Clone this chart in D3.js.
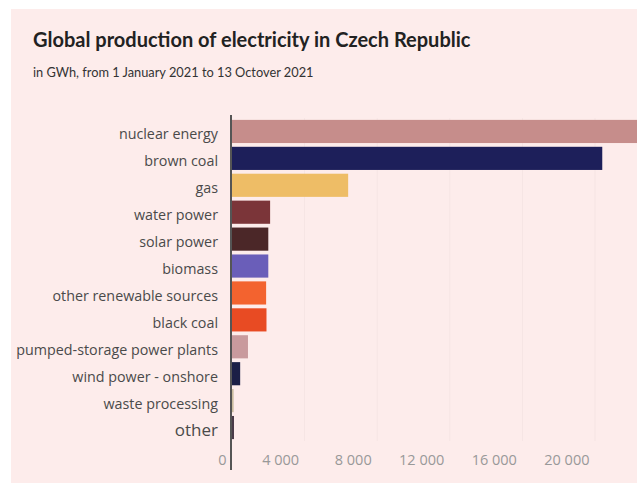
<!DOCTYPE html>
<html>
<head>
<meta charset="utf-8">
<script src="https://cdn.jsdelivr.net/npm/d3@7"></script>
<style>
  html, body { margin: 0; padding: 0; background: #fff; overflow: hidden; }
  svg { display: block; }
</style>
</head>
<body>
<div id="chart"></div>
<script>
// values, GWh from 1 Jan to 13 Oct 2021
var categories = ["nuclear energy", "brown coal", "gas", "water power", "solar power", "biomass",
  "other renewable sources", "black coal", "pumped-storage power plants", "wind power - onshore",
  "waste processing", "other"];
var production = [24000, 20400, 6400, 2100, 2000, 2000, 1880, 1900, 880, 450, 90, 110];
var barColors = ["#c68d8b", "#1d1f5a", "#eebd66", "#7b3539", "#4b2728", "#6a5eb9",
  "#f3632f", "#e84b23", "#c99a9d", "#1b1f46", "#cbbd9f", "#4a3b48"];
var xTicks = [0, 4000, 8000, 12000, 16000, 20000];

var W = 637, H = 483;

var data = categories.map(function(c, i){
  return { name: c, value: production[i], color: barColors[i] };
});

var svg = d3.select("#chart").append("svg")
  .attr("width", W)
  .attr("height", H);

// pink panel
svg.append("rect")
  .attr("x", 11).attr("y", 9)
  .attr("width", W - 11).attr("height", H - 9)
  .attr("fill", "#fdeceb");

svg.append("text")
  .attr("x", 33).attr("y", 47)
  .attr("font-family", "Lato, sans-serif")
  .attr("font-weight", "bold")
  .attr("font-size", 20)
  .attr("fill", "#222")
  .text("Global production of electricity in Czech Republic");

svg.append("text")
  .attr("x", 33).attr("y", 77)
  .attr("font-family", "Lato, sans-serif")
  .attr("font-size", 12.8)
  .attr("fill", "#333")
  .text("in GWh, from 1 January 2021 to 13 Octover 2021");

var x = d3.scaleLinear()
  .domain([0, 20000])
  .range([232, 595]);

var y = d3.scaleBand()
  .domain(categories)
  .range([118, 441])
  .paddingInner(0.14)
  .paddingOuter(0.07);

// faint grid
svg.append("g")
  .selectAll("line")
  .data(xTicks.slice(1))
  .join("line")
  .attr("x1", function(d){ return x(d); })
  .attr("x2", function(d){ return x(d); })
  .attr("y1", 118)
  .attr("y2", 441)
  .attr("stroke", "#000")
  .attr("stroke-opacity", 0.03);

svg.append("g")
  .selectAll("rect")
  .data(data)
  .join("rect")
  .attr("x", x(0))
  .attr("y", function(d){ return y(d.name); })
  .attr("width", function(d){ return x(d.value) - x(0); })
  .attr("height", y.bandwidth())
  .attr("fill", function(d){ return d.color; });

// category labels
svg.append("g")
  .selectAll("text")
  .data(data)
  .join("text")
  .attr("x", 218)
  .attr("y", function(d){ return y(d.name) + y.bandwidth() / 2 + 3; })
  .attr("dy", "0.35em")
  .attr("text-anchor", "end")
  .attr("font-family", "'Open Sans', sans-serif")
  .attr("font-size", function(d){ return d.name === "other" ? 17 : 14.3; })
  .attr("fill", "#4a4a4a")
  .text(function(d){ return d.name; });

// x axis: labels sit left of their tick
var fmt = function(d){ return d3.format(",")(d).replace(/,/g, " "); };
var xAxis = d3.axisBottom(x)
  .tickValues(xTicks)
  .tickSize(0)
  .tickFormat(fmt);

var gx = svg.append("g")
  .attr("transform", "translate(0,452)")
  .call(xAxis);
gx.select(".domain").remove();
gx.selectAll("text")
  .attr("text-anchor", "end")
  .attr("x", -6)
  .attr("y", 3)
  .attr("font-family", "'Open Sans', sans-serif")
  .attr("font-size", 14.5)
  .attr("fill", "#999");

// zero line
svg.append("line")
  .attr("x1", x(0) - 1).attr("x2", x(0) - 1)
  .attr("y1", 115).attr("y2", 470)
  .attr("stroke", "#555")
  .attr("stroke-width", 2);
</script>
</body>
</html>
